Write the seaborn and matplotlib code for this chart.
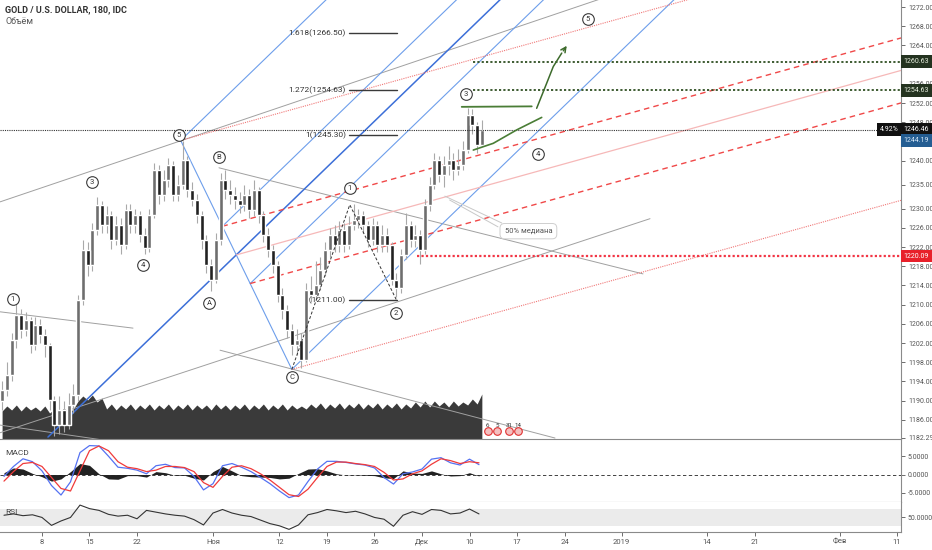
import numpy as np
import matplotlib
matplotlib.use('Agg')
import matplotlib.pyplot as plt
import matplotlib.transforms as mtransforms
import seaborn as sns

sns.set_theme(style='white')
plt.rcParams['font.family'] = ['Roboto', 'DejaVu Sans']

# ---- data (x = trading days since 8 Oct 2018) ----
first_open = 1190.0
closes = [1192.2, 1195.3, 1202.6, 1207.8, 1204.7, 1206.8, 1201.6, 1205.7, 1203.7, 1201.6,
          1190.1, 1184.9, 1188.0, 1184.9, 1189.1, 1191.2, 1211.0, 1221.4, 1218.2, 1225.5,
          1230.7, 1226.6, 1228.7, 1223.5, 1226.6, 1222.4, 1229.7, 1226.6, 1228.7, 1224.5,
          1221.8, 1228.7, 1238.0, 1232.8, 1236.0, 1239.1, 1232.8, 1234.9, 1240.1, 1233.9,
          1231.8, 1228.7, 1223.5, 1218.2, 1215.1, 1223.5, 1236.0, 1233.9, 1232.8, 1231.8,
          1230.7, 1232.8, 1229.7, 1233.9, 1228.7, 1224.5, 1221.4, 1218.2, 1212.0, 1208.9,
          1204.7, 1201.6, 1202.6, 1198.5, 1213.0, 1212.0, 1214.1, 1217.2, 1221.4, 1224.5,
          1222.4, 1225.5, 1222.4, 1226.6, 1227.6, 1228.7, 1226.6, 1223.5, 1226.6, 1222.4,
          1224.5, 1222.4, 1215.1, 1213.5, 1220.3, 1226.6, 1223.5, 1224.5, 1221.4, 1230.7,
          1234.9, 1240.1, 1237.0, 1239.1, 1240.1, 1238.0, 1239.1, 1242.2, 1249.5, 1247.4,
          1243.3, 1246.46]
highs = [1194, 1198, 1204, 1210.5, 1209, 1208.5, 1207.5, 1207.5, 1207, 1205,
         1202, 1191, 1191, 1190, 1191.5, 1193.5, 1212, 1223.5, 1223, 1227,
         1232.5, 1231.5, 1230.5, 1229.5, 1228.5, 1228, 1231, 1231, 1230, 1229.5,
         1226, 1230, 1239.5, 1239, 1238, 1240.5, 1240, 1237, 1244, 1241,
         1235.5, 1233, 1229.5, 1224.5, 1219.5, 1225, 1237.5, 1238, 1236, 1234.5,
         1233.5, 1235, 1234, 1236, 1234.5, 1229.5, 1226, 1222.5, 1219, 1213.5,
         1210, 1206, 1205, 1204, 1214.5, 1216, 1219, 1220, 1223, 1226,
         1226.5, 1227.5, 1227, 1228.5, 1231, 1230, 1229.5, 1227.5, 1228, 1227.5,
         1226.5, 1226, 1223, 1216.5, 1221.5, 1229, 1227.5, 1226.5, 1225.5, 1232,
         1236.5, 1241.5, 1241, 1241, 1243, 1241.5, 1242.5, 1244, 1251, 1250.8,
         1248, 1248.5]
lows = [1188, 1191, 1194, 1201, 1203, 1203.5, 1200, 1200.5, 1202, 1199,
        1188, 1182.6, 1183, 1183.5, 1184, 1187.5, 1190, 1210, 1216, 1217,
        1224.5, 1225, 1225, 1221.5, 1222.5, 1220.5, 1221.5, 1225, 1225, 1223,
        1220.5, 1221, 1228, 1231, 1231.5, 1234.5, 1231.5, 1231.5, 1234, 1232.5,
        1230.5, 1227, 1221.5, 1216.5, 1212.8, 1214.5, 1222.5, 1232, 1231, 1230,
        1229, 1229.5, 1228, 1228.5, 1227, 1223, 1220, 1216.5, 1210.5, 1207,
        1203, 1199.5, 1199.5, 1196.8, 1198, 1210.5, 1211, 1213, 1216, 1220,
        1221, 1221, 1221, 1221.5, 1225.5, 1226, 1225, 1222, 1222.5, 1221,
        1221, 1221, 1214, 1211.5, 1212.5, 1219.5, 1222, 1222, 1218.5, 1220.5,
        1229.5, 1234, 1235.5, 1234.5, 1237, 1236, 1237, 1238, 1241.5, 1245.5,
        1241.5, 1243]
volume = [28, 33, 29, 34, 28, 33, 29, 32, 28, 33,
          26, 30, 25, 31, 26, 30, 38, 43, 39, 44,
          37, 41, 30, 35, 29, 34, 30, 35, 29, 34,
          30, 35, 29, 34, 30, 35, 29, 34, 30, 35,
          29, 34, 30, 34, 29, 35, 30, 34, 29, 34,
          30, 35, 29, 34, 30, 35, 29, 34, 30, 35,
          29, 34, 30, 33, 30, 35, 31, 36, 30, 35,
          31, 36, 30, 35, 31, 36, 30, 35, 31, 36,
          30, 35, 31, 36, 30, 35, 31, 37, 32, 38,
          32, 38, 33, 37, 32, 38, 33, 37, 34, 40,
          35, 45]
first_candle_day = -4.2

macd_line = [-0.5, 2.2, 4.3, 3.5, 1.0, -3.0, -5.6, -2.0, 6.0, 7.9,
             7.8, 5.0, 2.0, 1.7, 1.2, 0.2, 2.4, 2.8, 1.9, 1.8,
             -0.5, -4.2, -2.5, 2.4, 3.0, 2.0, 0.8, -0.8, -2.5, -4.5,
             -6.3, -5.6, -1.9, 1.5, 3.6, 3.6, 3.3, 2.9, 2.6, 1.8,
             -0.8, -2.6, 0.2, 0.7, 1.5, 4.2, 4.6, 3.2, 2.6, 4.2, 2.7]
signal_line = [-1.8, 0.8, 3.0, 3.3, 2.2, -0.8, -3.8, -4.5, 1.0, 6.5,
               7.8, 6.5, 3.5, 2.0, 1.6, 0.8, 1.2, 2.2, 2.2, 1.9,
               0.8, -2.2, -3.5, -0.5, 2.0, 2.4, 1.6, 0.2, -1.5, -3.5,
               -5.5, -6.0, -4.0, -0.8, 2.2, 3.4, 3.4, 3.0, 2.7, 2.2,
               0.6, -1.5, -1.2, 0.2, 1.0, 2.8, 4.3, 3.8, 3.0, 3.5, 3.2]
macd_hist = [0.5, 1.8, 1.5, 0.3, -0.6, -1.8, -1.2, 0.8, 3.0, 2.5,
             0.2, -1.2, -1.3, -0.3, -0.3, -0.7, 0.8, 0.5, -0.2, -0.2,
             -1.0, -1.5, 0.8, 2.2, 1.0, -0.3, -0.6, -0.7, -0.8, -1.2,
             -1.0, 0.3, 1.5, 1.6, 1.0, 0.2, -0.1, -0.1, -0.2, -0.3,
             -0.9, -1.1, 1.0, 0.4, 0.3, 1.0, 0.2, -0.4, -0.3, 0.5, -0.4]
rsi_line = [55, 58, 54, 56, 50, 32, 42, 50, 78, 70,
            66, 57, 53, 55, 47, 66, 62, 58, 55, 53,
            45, 33, 60, 68, 60, 55, 52, 44, 36, 31,
            23, 33, 56, 61, 68, 65, 61, 64, 58, 50,
            46, 30, 55, 63, 57, 68, 66, 58, 60, 69, 58]
first_indicator_day = -4

tick_dates = ['2018-10-08', '2018-10-15', '2018-10-22', '2018-11-01', '2018-11-12',
              '2018-11-19', '2018-11-26', '2018-12-03', '2018-12-10', '2018-12-17',
              '2018-12-24', '2019-01-01', '2019-01-14', '2019-01-21', '2019-02-01',
              '2019-02-11']
tick_labels = ['8', '15', '22', 'Ноя', '12', '19', '26', 'Дек', '10', '17',
               '24', '2019', '14', '21', 'Фев', '11']
price_ticks = [1272, 1268, 1264, 1256, 1252, 1248, 1240, 1235, 1230, 1226, 1222,
               1218, 1214, 1210, 1206, 1202, 1198, 1194, 1190, 1186, 1182.29]

# elliott wave marks
wave_names = ['1', '3', '4', '5', 'A', 'B', 'C', '1', '2', '3', '4', '5']
wave_days = [-3.05, 5.26, 10.63, 14.42, 17.58, 18.63, 26.32, 32.42, 37.26, 44.63, 52.21, 57.47]
wave_prices = [1211.2, 1235.5, 1218.25, 1245.3, 1210.3, 1240.75, 1194.9, 1234.3,
               1208.25, 1253.9, 1241.4, 1269.5]

# pitchfork anchors: wave (2) low, wave 5 top, wave C low
fork_pivot = (0.63, 1182.4)
fork_top = (14.6, 1244.2)
fork_bottom = (26.3, 1196.5)
fork_level = 0.25

# trend extension points: C, 1, 2
ext_points_day = [26.3, 32.4, 37.3]
ext_points_price = [1196.5, 1230.8, 1211.0]
ext_levels = [0, 1, 1.272, 1.618]

gray_lines = [(-4.42, 1231.4, 60.0, 1274.5),
              (18.63, 1238.5, 63.26, 1216.4),
              (-4.42, 1208.5, 9.58, 1205.1),
              (18.74, 1200.5, 54.0, 1182.2),
              (-4.42, 1183.3, 64.0, 1227.9),
              (-4.42, 1184.9, 6.4, 1181.8)]

last_price = 1246.46
green_levels = [1260.63, 1254.63]
green_level_start = 45.4
red_level = 1220.09
red_level_start = 39.5
green_flat = ([44.18, 51.55], [1251.2, 1251.3])
green_arrow = ([52.07, 53.12, 53.82, 54.71, 55.4], [1250.9, 1256.1, 1259.6, 1262.4, 1264.4])
green_wedge = ([45.4, 47.5, 49.97, 52.6], [1242.2, 1243.6, 1246.4, 1249.0])

# ---- figure / panels ----
W, H = 932, 550
fig = plt.figure(figsize=(W / 100, H / 100), dpi=100)
right = 901 / W
ax = fig.add_axes([0, 1 - 439 / H, right, 439 / H])
ax_m = fig.add_axes([0, 1 - 502 / H, right, 63 / H])
ax_r = fig.add_axes([0, 1 - 532 / H, right, 30 / H])

# volume sits on a twin axis behind the candles
ax_v = ax.twinx()
ax_v.set_ylim(0, 439)
ax_v.axis('off')
ax.set_zorder(ax_v.get_zorder() + 1)
ax.patch.set_visible(False)

xmin, xmax = -4.42, 90.42
for a in (ax, ax_m, ax_r):
    a.set_xlim(xmin, xmax)
    for s in ('top', 'left'):
        a.spines[s].set_visible(False)
    for s in ('bottom', 'right'):
        a.spines[s].set_color('#8a8a8a')
        a.spines[s].set_linewidth(0.8)
    a.yaxis.tick_right()
    a.tick_params(axis='y', left=False, labelleft=False, right=True, labelright=True,
                  labelsize=5, colors='#555555', length=3, width=0.6, pad=2, direction='out')
    a.tick_params(axis='x', bottom=False, labelbottom=False)
    a.grid(False)

ax.set_ylim(1182.0, 1273.46)
ax.set_yticks(price_ticks)
ax.set_yticklabels([f'{v:.2f}' for v in price_ticks])

cdays = first_candle_day + 0.5 * np.arange(len(closes))
ax_v.fill_between(cdays, volume, 0, color='#3a3a3a', lw=0)

# candles
c = np.array(closes)
o = np.r_[first_open, c[:-1]]
up = c >= o
ax.vlines(cdays, lows, highs, color='#a9a9a9', lw=0.8, zorder=3)
ax.bar(cdays[up], c[up] - o[up], bottom=o[up], width=0.42, color='#6e6e6e', zorder=4)
ax.bar(cdays[~up], c[~up] - o[~up], bottom=o[~up], width=0.42, color='#222222', zorder=4)

# gray trend lines
for d1, p1, d2, p2 in gray_lines:
    ax.plot([d1, d2], [p1, p2], color='#a0a0a0', lw=0.7, zorder=2)

# pitchforks
piv = np.array(fork_pivot)
top = np.array(fork_top)
bot = np.array(fork_bottom)
mid = (top + bot) / 2
far = 100.0


def ray(start, slope, **kw):
    ax.plot([start[0], far], [start[1], start[1] + slope * (far - start[0])], **kw)


ax.plot([top[0], bot[0]], [top[1], bot[1]], color='#6d9eeb', lw=0.8, zorder=2)
blue_slope = (mid[1] - piv[1]) / (mid[0] - piv[0])
ray(piv, blue_slope, color='#3c6fd8', lw=1.1, zorder=2)
for pt in (top, bot):
    ray(pt, blue_slope, color='#6d9eeb', lw=0.8, zorder=2)
for pt in (top, bot):
    ray(mid + fork_level * (pt - mid), blue_slope, color='#6d9eeb', lw=0.8, zorder=2)

schiff_piv = (piv + top) / 2
red_slope = (mid[1] - schiff_piv[1]) / (mid[0] - schiff_piv[0])
ray(mid, red_slope, color='#f6b8b8', lw=0.9, zorder=2)
for pt in (top, bot):
    ray(pt, red_slope, color='#f07878', lw=0.8, ls=(0, (1, 1)), zorder=2)
    ray(mid + fork_level * (pt - mid), red_slope, color='#f04848', lw=1.0, ls=(0, (4, 3)), zorder=2)

# trend-based fib extension
ax.plot(ext_points_day, ext_points_price, color='#333333', lw=0.7, ls=(0, (3, 2)), zorder=5)
ext_base = ext_points_price[2]
ext_range = ext_points_price[1] - ext_points_price[0]
for lv in ext_levels:
    pr = ext_base + lv * ext_range
    ax.plot([32.3, 37.4], [pr, pr], color='#3a3a3a', lw=1.0, zorder=5)
    ax.text(32.0, pr, f'{lv:g}({pr:.2f})', ha='right', va='center', fontsize=6,
            color='#333333', zorder=3)

# horizontal levels
ax.axhline(last_price, color='#333333', lw=0.8, ls=(0, (1, 1)), zorder=5)
for lv in green_levels:
    ax.plot([green_level_start, xmax], [lv, lv], color='#2f4f22', lw=1.3, ls=(0, (1.2, 1.2)), zorder=5)
ax.plot([red_level_start, xmax], [red_level, red_level], color='#f23645', lw=1.6,
        ls=(0, (1, 1)), zorder=5)

# hand drawn green forecast
ax.plot(*green_flat, color='#4a7d36', lw=1.3, zorder=6)
ax.plot(*green_wedge, color='#4a7d36', lw=1.2, zorder=6)
ax.plot(green_arrow[0][:-1], green_arrow[1][:-1], color='#3d6b2c', lw=1.1, zorder=6)
ax.annotate('', xy=(green_arrow[0][-1], green_arrow[1][-1]),
            xytext=(green_arrow[0][-2], green_arrow[1][-2]),
            arrowprops=dict(arrowstyle='->', color='#3d6b2c', lw=1.1, mutation_scale=9), zorder=6)

# wave marks
ax.scatter(wave_days, wave_prices, s=70, facecolor='white', edgecolor='#3a3a3a', lw=0.8, zorder=7)
for n, d, p in zip(wave_names, wave_days, wave_prices):
    ax.text(d, p, n, ha='center', va='center', fontsize=5.5, color='#333333', zorder=8)

# median callout
ax.plot([42.4, 48.4], [1232.6, 1227.0], color='#c8c8c8', lw=0.7, zorder=5)
ax.plot([42.9, 48.0], [1231.8, 1226.2], color='#c8c8c8', lw=0.7, zorder=5)
ax.text(51.2, 1225.3, '50% медиана', ha='center', va='center', fontsize=5.5, color='#555555',
        bbox=dict(boxstyle='round,pad=0.6', fc='white', ec='#cfcfcf', lw=0.7), zorder=6)

# economic events near the volume
for d, lab in zip([46.9, 47.9, 49.2, 50.1], ['6', '5', '31', '14']):
    ax.scatter([d], [1183.7], s=30, facecolor='#f4c0c0', edgecolor='#e03030', lw=0.8, zorder=7)
    ax.text(d, 1184.9, lab, ha='center', va='center', fontsize=4.5, color='#333333', zorder=8)

# price boxes on the scale
blend = mtransforms.blended_transform_factory(ax.transAxes, ax.transData)
boxes = [(1260.63, '#243320', '#e8f0e0'), (1254.63, '#243320', '#e8f0e0'),
         (last_price, '#111111', 'white'), (1244.19, '#245d92', '#d6e8f8'),
         (red_level, '#e8202a', 'white')]
for pr, fc, tc in boxes:
    ax.text(1.003, pr, f'{pr:.2f}', transform=blend, ha='left', va='center', fontsize=5,
            color=tc, clip_on=False, zorder=10,
            bbox=dict(boxstyle='square,pad=0.4', fc=fc, ec='none'))
ax.text(0.997, last_price, '4.92%', transform=blend, ha='right', va='center', fontsize=5,
        color='white', clip_on=False, zorder=10,
        bbox=dict(boxstyle='square,pad=0.4', fc='#111111', ec='none'))

# ---- MACD ----
idays = first_indicator_day + np.arange(len(macd_line))
ax_m.set_ylim(-7.5, 9.7)
ax_m.fill_between(idays, macd_hist, 0, color='#222222', lw=0)
ax_m.axhline(0, color='#222222', lw=0.6, ls=(0, (4, 3)))
sns.lineplot(x=idays, y=macd_line, ax=ax_m, color='#5572f2', lw=0.9)
sns.lineplot(x=idays, y=signal_line, ax=ax_m, color='#f03a3a', lw=0.9)
ax_m.set_yticks([5, 0, -5])
ax_m.set_yticklabels(['5.0000', '0.0000', '-5.0000'])
ax_m.set_ylabel('')

# ---- RSI ----
ax_r.set_ylim(17, 85)
ax_r.axhspan(30, 70, color='#ebebeb', lw=0)
sns.lineplot(x=idays, y=rsi_line, ax=ax_r, color='#333333', lw=0.8)
ax_r.set_yticks([50])
ax_r.set_yticklabels(['50.0000'])
ax_r.set_ylabel('')
tick_pos = np.busday_count('2018-10-08', tick_dates)
ax_r.set_xticks(tick_pos)
ax_r.set_xticklabels(tick_labels)
ax_r.tick_params(axis='x', bottom=True, labelbottom=True, labelsize=5.5, colors='#555555',
                 length=3, width=0.6, pad=2)

# titles
fig.text(5 / W, 1 - 10 / H, 'GOLD / U.S. DOLLAR, 180, IDC', fontsize=6.5, color='#333333',
         fontweight='bold', va='center')
fig.text(5 / W, 1 - 22 / H, 'Объём', fontsize=6.5, color='#555555', va='center')
fig.text(5 / W, 1 - 453 / H, 'MACD', fontsize=6, color='#444444', va='center')
fig.text(5 / W, 1 - 512 / H, 'RSI', fontsize=6, color='#444444', va='center')

fig.savefig('out.png', dpi=100)
